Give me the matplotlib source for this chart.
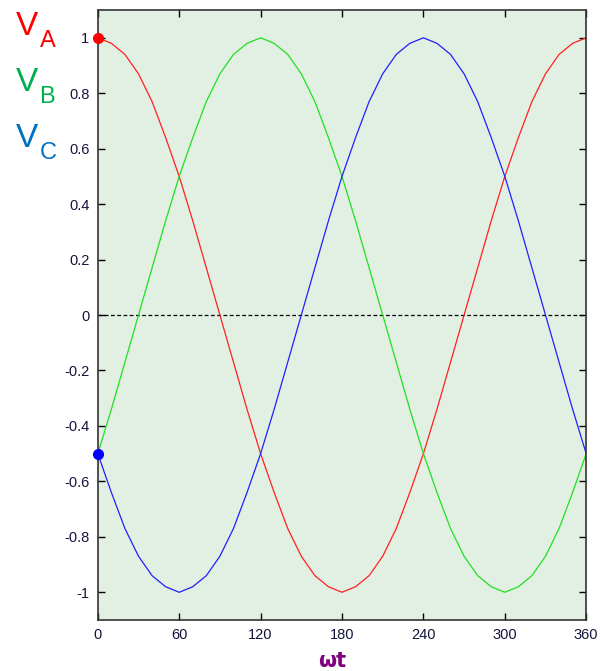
import matplotlib
matplotlib.use("Agg")
import matplotlib.pyplot as plt

# phase angle in degrees, 10 degree steps
wt = list(range(0, 361, 10))

va = [1, 0.98, 0.94, 0.87, 0.77, 0.64, 0.5, 0.34, 0.17, 0, -0.17, -0.34, -0.5,
      -0.64, -0.77, -0.87, -0.94, -0.98, -1, -0.98, -0.94, -0.87, -0.77, -0.64,
      -0.5, -0.34, -0.17, 0, 0.17, 0.34, 0.5, 0.64, 0.77, 0.87, 0.94, 0.98, 1]
vb = [-0.5, -0.34, -0.17, 0, 0.17, 0.34, 0.5, 0.64, 0.77, 0.87, 0.94, 0.98, 1,
      0.98, 0.94, 0.87, 0.77, 0.64, 0.5, 0.34, 0.17, 0, -0.17, -0.34, -0.5,
      -0.64, -0.77, -0.87, -0.94, -0.98, -1, -0.98, -0.94, -0.87, -0.77, -0.64, -0.5]
vc = [-0.5, -0.64, -0.77, -0.87, -0.94, -0.98, -1, -0.98, -0.94, -0.87, -0.77,
      -0.64, -0.5, -0.34, -0.17, 0, 0.17, 0.34, 0.5, 0.64, 0.77, 0.87, 0.94, 0.98,
      1, 0.98, 0.94, 0.87, 0.77, 0.64, 0.5, 0.34, 0.17, 0, -0.17, -0.34, -0.5]

xticks = [0, 60, 120, 180, 240, 300, 360]
yticks = [-1, -0.8, -0.6, -0.4, -0.2, 0, 0.2, 0.4, 0.6, 0.8, 1]
ylabels = ["-1", "-0.8", "-0.6", "-0.4", "-0.2", "0", "0.2", "0.4", "0.6", "0.8", "1"]

plt.rcParams["font.family"] = ["Liberation Sans", "DejaVu Sans"]

fig = plt.figure(figsize=(6, 6.71), dpi=100)
ax = fig.add_axes([0.163, 0.076, 0.814, 0.909])
ax.set_facecolor("#e2efe3")

ax.axhline(0, color="black", lw=0.9, ls=(0, (3, 2)))
ax.plot(wt, va, color="#ff2020", lw=0.9)
ax.plot(wt, vb, color="#20e020", lw=0.9)
ax.plot(wt, vc, color="#2020ff", lw=0.9)
ax.plot(wt[0], va[0], "o", color="#ff0000", ms=7, clip_on=False, zorder=5)
ax.plot(wt[0], vc[0], "o", color="#0000ff", ms=7, clip_on=False, zorder=5)

ax.set_xlim(0, 360)
ax.set_ylim(-1.1, 1.1)
ax.set_xticks(xticks)
ax.set_yticks(yticks)
ax.set_yticklabels(ylabels)
ax.tick_params(direction="in", top=True, right=True, length=5, width=1,
               labelsize=10.5, labelcolor="#14143c", pad=6)
for s in ax.spines.values():
    s.set_linewidth(1.2)
    s.set_color("#333333")

# phase legend at the upper left
names = [("A", "#ff0000"), ("B", "#00b050"), ("C", "#0070c0")]
for i, (n, c) in enumerate(names):
    yb = 1 - (35 + 56 * i) / 671
    fig.text(0.027, yb, "V", color=c, fontsize=24, va="baseline", ha="left")
    fig.text(0.066, yb - 12 / 671, n, color=c, fontsize=17, va="baseline", ha="left")

fig.text(332 / 600, 1 - 667 / 671, "ωt", color="#800080", fontsize=15,
         fontweight="bold", ha="center", va="baseline", family=["DejaVu Sans"])

fig.savefig("out.png", dpi=100)
